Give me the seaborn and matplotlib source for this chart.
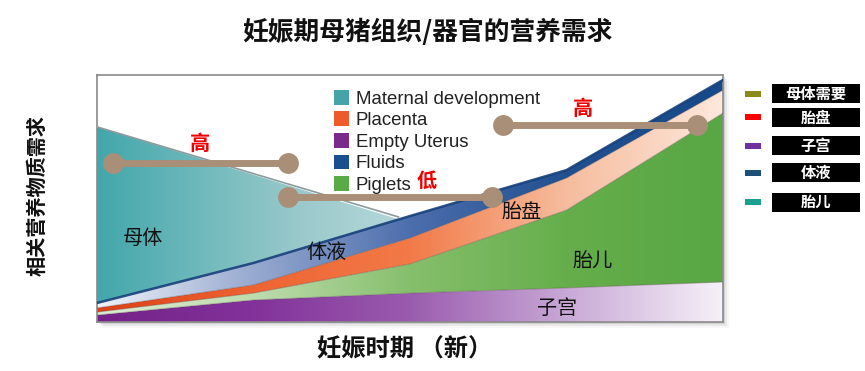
import numpy as np
import matplotlib
matplotlib.use("Agg")
import matplotlib.pyplot as plt
import seaborn as sns
from matplotlib.colors import LinearSegmentedColormap
from matplotlib.patches import Patch, Rectangle

sns.set_theme(style="white")
plt.rcParams["font.family"] = ["Noto Sans CJK SC", "DejaVu Sans"]

# gestation stage (0 = mating, 100 = farrowing) and stacked nutrient demand
stage = [0, 25, 50, 75, 100]
uterus = [2.8, 8.9, 11.7, 13.8, 16.2]
piglets = [1.2, 2.8, 11.8, 31.5, 68.4]
placenta = [1.7, 3.3, 10.5, 13.0, 9.3]
fluids = [2.0, 8.9, 8.9, 3.2, 4.1]

maternal_stage = [0, 25, 50]
maternal_top = [79.0, 59.6, 40.2]

legend_names = ["Maternal development", "Placenta", "Empty Uterus", "Fluids", "Piglets"]
legend_colors = ["#44a4a8", "#ee5a2a", "#7a2a8a", "#1a4f8f", "#5aaa48"]

side_names = ["母体需要", "胎盘", "子宫", "体液", "胎儿"]
side_colors = ["#8a8a1a", "#ff0000", "#7030a0", "#1f5078", "#1aa090"]

# "high / low / high" demand brackets
bracket_x = [[2.6, 30.5], [30.5, 63.1], [64.9, 95.8]]
bracket_y = [64.4, 50.6, 79.8]
bracket_text = ["高", "低", "高"]
bracket_text_xy = [(16.4, 72.5), (52.7, 57.5), (77.6, 86.6)]

layer_text = ["母体", "体液", "胎盘", "胎儿", "子宫"]
layer_text_xy = [(7.3, 34.0), (36.7, 28.3), (67.9, 44.1), (79.2, 24.3), (73.5, 5.3)]


def gradient_fill(ax, x, lower, upper, colors, z, **kw):
    poly = ax.fill_between(x, lower, upper, color="none", lw=0, **kw)
    cmap = LinearSegmentedColormap.from_list("g", colors)
    grad = np.linspace(0, 1, 256).reshape(1, -1)
    im = ax.imshow(grad, cmap=cmap, extent=[min(x), max(x), 0, 100],
                   aspect="auto", origin="lower", zorder=z, interpolation="bicubic")
    im.set_clip_path(poly.get_paths()[0], transform=ax.transData)
    return poly


fig = plt.figure(figsize=(8.65, 3.71), dpi=100)
ax = fig.add_axes([97 / 865, 49 / 371, 626 / 865, 247 / 371])
ax.set_zorder(2)
ax.set_facecolor("white")

# soft drop shadow behind the plot frame
for i, a in enumerate([0.10, 0.06, 0.03]):
    off = (i + 1) * 2
    fig.patches.append(Rectangle((97 / 865 + off / 865, 49 / 371 - off / 371), 626 / 865, 247 / 371,
                                 transform=fig.transFigure, facecolor="black", alpha=a,
                                 edgecolor="none", zorder=-1))

x = np.array(stage, dtype=float)
c1 = np.array(uterus)
c2 = c1 + np.array(piglets)
c3 = c2 + np.array(placenta)
c4 = c3 + np.array(fluids)

gradient_fill(ax, x, 0, c1, ["#74228a", "#82329a", "#9a5cae", "#c8a8d6", "#f6f0f8"], 2)
gradient_fill(ax, x, c1, c2, ["#dcecd4", "#bedcae", "#86bf6c", "#66ae4c", "#58a644"], 2)
gradient_fill(ax, x, c2, c3, ["#dc4018", "#ee6432", "#f27a48", "#f6bc9e", "#fde8dc"], 2)
gradient_fill(ax, x, c3, c4, ["#f0f2f8", "#97a9d0", "#4d6ead", "#21508f", "#174a8a"], 2)

m = np.interp(x[:3], maternal_stage, maternal_top)
gradient_fill(ax, x[:3], c4[:3], m, ["#42a7ab", "#70b9bc", "#9ccacc", "#b6d9dc"], 1.9,
              where=m >= c4[:3], interpolate=True)

# thin shadow edges on layer tops
for top in [c1, c2, c3]:
    ax.plot(x, top, color="#5a4a4a", lw=0.8, alpha=0.35, zorder=3)
ax.plot(x, c4, color="#16407a", lw=1.8, alpha=0.9, zorder=3)
ax.plot([0, 48.2], [79.0, 42.5], color="#8c9c9c", lw=1.2, zorder=3)

for xs, yv in zip(bracket_x, bracket_y):
    sns.lineplot(x=xs, y=[yv, yv], ax=ax, color="#a98f78", lw=5, marker="o",
                 markersize=15, markeredgewidth=0, zorder=5)

for t, (tx, ty) in zip(bracket_text, bracket_text_xy):
    ax.text(tx, ty, t, color="#ee0000", fontsize=14.5, fontweight="bold",
            ha="center", va="center", zorder=6)

for t, (tx, ty) in zip(layer_text, layer_text_xy):
    ax.text(tx, ty, t, color="#111111", fontsize=14.5, ha="center", va="center", zorder=6)

handles = [Patch(facecolor=c, edgecolor="none") for c in legend_colors]
leg = ax.legend(handles, legend_names, loc="upper left", bbox_to_anchor=(0.366, 0.97),
                frameon=False, handlelength=0.85, handleheight=0.85, labelspacing=0.2,
                handletextpad=0.35, borderaxespad=0,
                prop={"family": "Liberation Sans", "size": 13.4})
leg.set_zorder(6)
for txt in leg.get_texts():
    txt.set_color("#222222")

ax.set_xlim(0, 100)
ax.set_ylim(0, 100)
ax.set_xticks([])
ax.set_yticks([])
for s in ax.spines.values():
    s.set_color("#8a8a8a")
    s.set_linewidth(1.2)

fig.text(427 / 865, 1 - 32 / 371, "妊娠期母猪组织/器官的营养需求", ha="center", va="center",
         fontsize=18.5, fontweight="heavy", color="#111111")
fig.text(405 / 865, 1 - 349 / 371, "妊娠时期 （新）", ha="center", va="center",
         fontsize=17.5, fontweight="heavy", color="#111111")
fig.text(37 / 865, 1 - 196 / 371, "相关营养物质需求", ha="center", va="center",
         rotation=90, fontsize=14.5, fontweight="heavy", color="#111111")

# outside key: colour swatch + black name plate
side_y = [93.5, 117.5, 146, 172.5, 202]
for name, col, yc in zip(side_names, side_colors, side_y):
    fig.patches.append(Rectangle((745 / 865, 1 - (yc + 3) / 371), 16 / 865, 6 / 371,
                                 transform=fig.transFigure, facecolor=col, edgecolor="none"))
    fig.patches.append(Rectangle((772 / 865, 1 - (yc + 9.5) / 371), 88 / 865, 19 / 371,
                                 transform=fig.transFigure, facecolor="black", edgecolor="none"))
    fig.text(816 / 865, 1 - yc / 371, name, ha="center", va="center", color="white",
             fontsize=11, fontweight="bold")

fig.savefig("out.png", dpi=100)
